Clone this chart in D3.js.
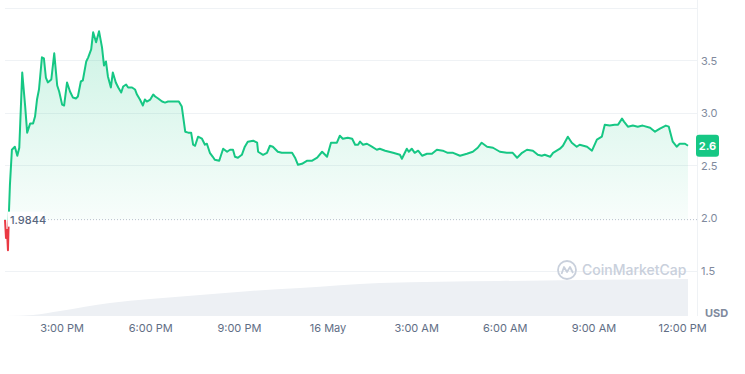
<!DOCTYPE html>
<html>
<head>
<meta charset="utf-8">
<script src="https://cdn.jsdelivr.net/npm/d3@7"></script>
<style>
  body { margin: 0; background: #fff; }
  svg { display: block; font-family: Inter, "Noto Sans", sans-serif; }
</style>
</head>
<body>
<div id="chart"></div>
<script>
let baselinePrice = 1.9844;
let lastPriceLabel = '2.6';

// minutes after 15 May 13:00
let priceMinutes = [4, 6, 8, 10, 12, 14, 18, 24, 29, 33, 39, 45, 49, 55, 61, 65, 69, 73, 79, 83, 87, 91, 98,
    104, 110, 114, 120, 124, 130, 136, 142, 148, 152, 158, 162, 169, 173, 179, 183, 189, 195, 201, 205, 209,
    213, 219, 223, 229, 234, 240, 244, 250, 254, 262, 268, 272, 278, 284, 288, 292, 299, 305, 309, 315, 323,
    329, 335, 345, 357, 363, 370, 376, 382, 386, 390, 396, 404, 410, 414, 420, 426, 430, 439, 447, 455, 461,
    467, 471, 477, 485, 491, 497, 508, 516, 518, 528, 536, 542, 548, 558, 566, 577, 587, 593, 599, 607, 617,
    627, 638, 648, 658, 666, 678, 684, 690, 700, 709, 715, 721, 725, 731, 739, 749, 759, 765, 776, 792, 806,
    810, 820, 824, 830, 836, 843, 851, 861, 871, 881, 893, 903, 914, 928, 942, 954, 964, 972, 983, 995, 1009,
    1023, 1035, 1044, 1054, 1064, 1076, 1086, 1094, 1100, 1111, 1117, 1131, 1137, 1147, 1155, 1165, 1171,
    1186, 1196, 1206, 1216, 1222, 1232, 1242, 1249, 1257, 1261, 1269, 1279, 1289, 1299, 1314, 1324, 1334,
    1346, 1352, 1360, 1368, 1374, 1385, 1391];
let prices = [1.984, 1.81, 1.885, 1.694, 2.057, 2.315, 2.65, 2.679, 2.593, 2.669, 3.386, 3.061, 2.813, 2.899,
    2.899, 2.966, 3.128, 3.224, 3.53, 3.52, 3.338, 3.291, 3.319, 3.568, 3.262, 3.205, 3.08, 3.071, 3.291,
    3.205, 3.147, 3.138, 3.157, 3.3, 3.31, 3.491, 3.53, 3.606, 3.769, 3.673, 3.778, 3.625, 3.453, 3.491,
    3.348, 3.243, 3.386, 3.291, 3.243, 3.195, 3.252, 3.271, 3.243, 3.243, 3.224, 3.176, 3.128, 3.071, 3.128,
    3.109, 3.128, 3.176, 3.157, 3.138, 3.109, 3.099, 3.109, 3.109, 3.109, 3.061, 2.822, 2.813, 2.813, 2.698,
    2.688, 2.774, 2.755, 2.698, 2.707, 2.621, 2.583, 2.554, 2.545, 2.66, 2.631, 2.65, 2.65, 2.583, 2.574,
    2.602, 2.679, 2.727, 2.736, 2.717, 2.631, 2.602, 2.621, 2.688, 2.679, 2.631, 2.621, 2.621, 2.621, 2.574,
    2.507, 2.516, 2.545, 2.545, 2.574, 2.631, 2.583, 2.717, 2.717, 2.784, 2.755, 2.765, 2.755, 2.698, 2.698,
    2.727, 2.698, 2.707, 2.679, 2.65, 2.66, 2.641, 2.621, 2.602, 2.564, 2.66, 2.631, 2.66, 2.621, 2.641,
    2.593, 2.612, 2.612, 2.65, 2.641, 2.621, 2.621, 2.593, 2.612, 2.631, 2.669, 2.717, 2.679, 2.669, 2.631,
    2.621, 2.621, 2.574, 2.621, 2.65, 2.641, 2.602, 2.593, 2.602, 2.583, 2.621, 2.66, 2.688, 2.774, 2.717,
    2.679, 2.698, 2.679, 2.641, 2.746, 2.774, 2.889, 2.88, 2.889, 2.889, 2.946, 2.918, 2.87, 2.88, 2.87,
    2.88, 2.86, 2.822, 2.851, 2.88, 2.87, 2.727, 2.679, 2.707, 2.707, 2.688];

let volumeMinutes = [4, 61, 116, 217, 299, 400, 502, 603, 765, 1009, 1391];
let volumes = [0, 1, 5, 13, 17, 21, 25, 28, 33, 35, 37];

let yTicks = [1.5, 2, 2.5, 3, 3.5];
let gridValues = [1.5, 2.5, 3, 3.5, 4];

let startTime = new Date(2023, 4, 15, 13, 0);
function toDate(m) { return new Date(startTime.getTime() + m * 60000); }

let priceData = priceMinutes.map((m, i) => ({ date: toDate(m), price: prices[i] }));
let volumeData = volumeMinutes.map((m, i) => ({ date: toDate(m), vol: volumes[i] }));

var W = 745, H = 374;
var green = '#16c784', red = '#ea3943', gray = '#808a9d', grid = '#eff2f5';

var svg = d3.select('#chart').append('svg').attr('width', W).attr('height', H);

var x = d3.scaleTime().domain(d3.extent(priceData, d => d.date)).range([5, 688]);
var y = d3.scaleLinear().domain([1.5, 4]).range([270.5, 8]);
var yVol = d3.scaleLinear().domain([0, 40]).range([316, 276]);

var defs = svg.append('defs');
var baseY = y(baselinePrice);
var off = (baseY - y(4)) / (y(1.5) - y(4));

var strokeGrad = defs.append('linearGradient').attr('id', 'strokeGrad')
    .attr('gradientUnits', 'userSpaceOnUse')
    .attr('x1', 0).attr('x2', 0).attr('y1', y(4)).attr('y2', y(1.5));
strokeGrad.append('stop').attr('offset', off).attr('stop-color', green);
strokeGrad.append('stop').attr('offset', off).attr('stop-color', red);

var fillGrad = defs.append('linearGradient').attr('id', 'fillGrad')
    .attr('gradientUnits', 'userSpaceOnUse')
    .attr('x1', 0).attr('x2', 0).attr('y1', y(3.8)).attr('y2', baseY);
fillGrad.append('stop').attr('offset', 0).attr('stop-color', green).attr('stop-opacity', 0.22);
fillGrad.append('stop').attr('offset', 1).attr('stop-color', green).attr('stop-opacity', 0.03);

// grid
svg.append('g').selectAll('line').data(gridValues).enter().append('line')
    .attr('x1', 5).attr('x2', 697)
    .attr('y1', d => Math.round(y(d)) + 0.5).attr('y2', d => Math.round(y(d)) + 0.5)
    .attr('stroke', grid).attr('stroke-width', 1);

svg.append('line').attr('x1', 697.5).attr('x2', 697.5).attr('y1', 0).attr('y2', 316)
    .attr('stroke', grid);

// volume
var volArea = d3.area().x(d => x(d.date)).y0(yVol(0)).y1(d => yVol(d.vol)).curve(d3.curveMonotoneX);
svg.append('path').datum(volumeData).attr('d', volArea).attr('fill', '#edf0f4');

// watermark
var wm = svg.append('g').attr('transform', 'translate(567,270)');
wm.append('circle').attr('r', 9).attr('fill', 'none').attr('stroke', '#c9d0dc').attr('stroke-width', 1.8);
wm.append('path').attr('d', 'M-5.5,4 L-3,-3 L0,2 L3,-3 L6,3')
    .attr('fill', 'none').attr('stroke', '#c9d0dc').attr('stroke-width', 1.8).attr('stroke-linejoin', 'round');
svg.append('text').attr('x', 582).attr('y', 275).text('CoinMarketCap')
    .attr('font-size', 14).attr('font-weight', 500).attr('fill', '#c9d0dc');

// price area + line
var area = d3.area().x(d => x(d.date)).y0(baseY).y1(d => y(d.price));
svg.append('path').datum(priceData).attr('d', area).attr('fill', 'url(#fillGrad)');

var line = d3.line().x(d => x(d.date)).y(d => y(d.price));
svg.append('path').datum(priceData).attr('d', line)
    .attr('fill', 'none').attr('stroke', 'url(#strokeGrad)').attr('stroke-width', 2)
    .attr('stroke-linejoin', 'round');

// baseline
svg.append('line').attr('x1', 45).attr('x2', 697).attr('y1', baseY).attr('y2', baseY)
    .attr('stroke', '#b7bfcc').attr('stroke-dasharray', '1,2');
svg.append('rect').attr('x', 8).attr('y', baseY - 8).attr('width', 36).attr('height', 15).attr('fill', '#fff');
svg.append('text').attr('x', 10).attr('y', baseY + 4).text(baselinePrice)
    .attr('font-size', 11).attr('font-weight', 500).attr('fill', '#58667e');

// y axis labels
svg.append('g').selectAll('text').data(yTicks).enter().append('text')
    .attr('x', 701).attr('y', d => y(d) + 4)
    .text(d => d3.format('.1f')(d))
    .attr('font-size', 11).attr('fill', gray);

svg.append('text').attr('x', 705).attr('y', 317).text('USD')
    .attr('font-size', 11).attr('font-weight', 700).attr('fill', gray);

// last price tag
var last = priceData[priceData.length - 1];
var ly = y(last.price);
svg.append('rect').attr('x', 696).attr('y', ly - 11).attr('width', 23).attr('height', 22)
    .attr('rx', 3).attr('fill', green);
svg.append('text').attr('x', 707.5).attr('y', ly + 4).attr('text-anchor', 'middle')
    .text(lastPriceLabel).attr('font-size', 11).attr('font-weight', 700).attr('fill', '#fff');

// x axis labels
var fmt = d3.timeFormat('%-I:%M %p');
var ticks = x.ticks(d3.timeHour.every(3));
svg.append('g').selectAll('text').data(ticks).enter().append('text')
    .attr('x', d => x(d)).attr('y', 332).attr('text-anchor', 'middle')
    .text(d => d.getHours() === 0 ? d3.timeFormat('%-d %B')(d) : fmt(d))
    .attr('font-size', 11).attr('fill', '#616e85');
</script>
</body>
</html>
